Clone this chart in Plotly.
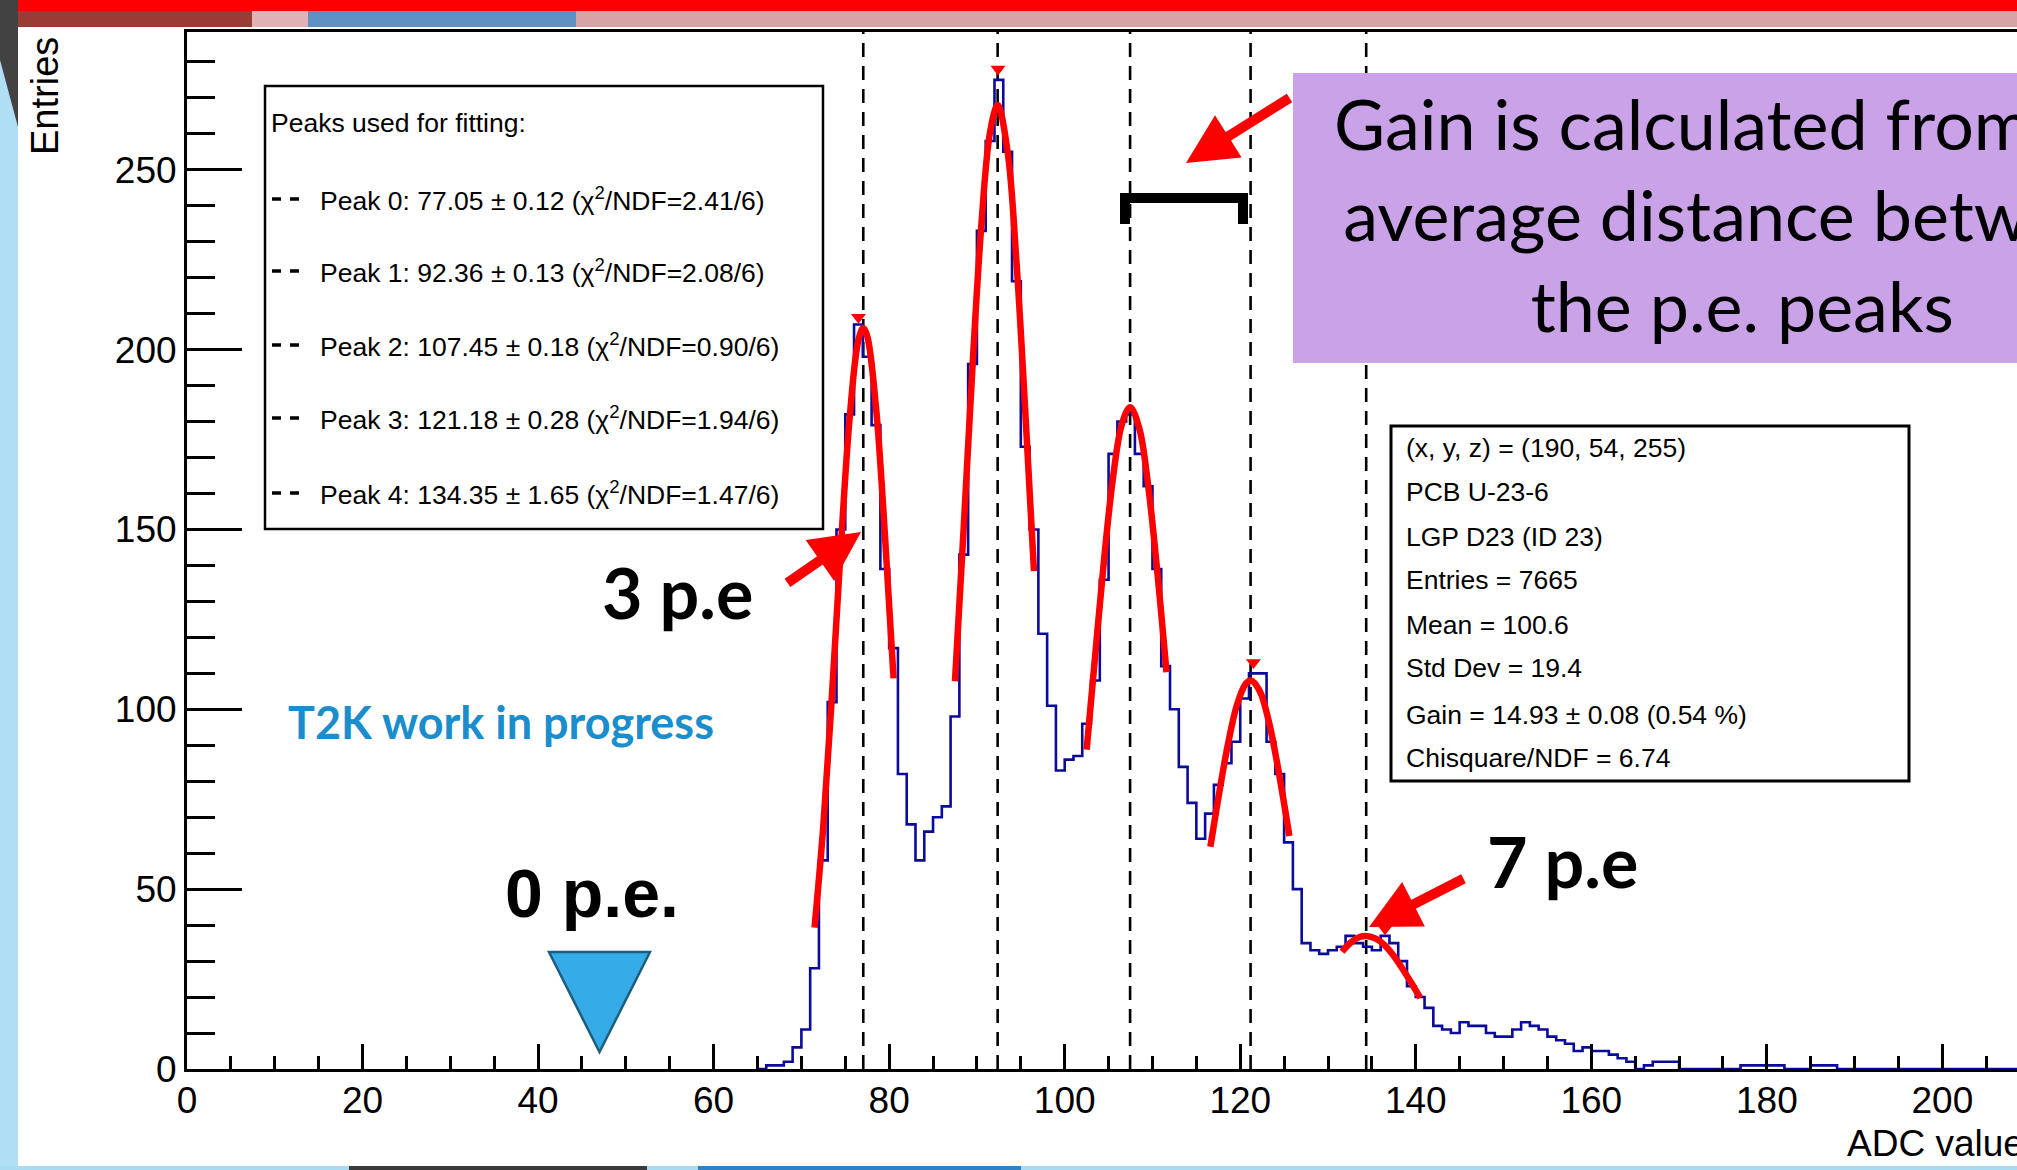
import plotly.graph_objects as go

# ---------------- data ----------------
bin_lo = list(range(65, 209))  # left edges of 1-ADC-wide bins
counts = [
    0, 1, 1, 2, 6, 11, 28, 58, 102,                 # 65-73
    150, 182, 207, 198, 179, 139, 117,              # 74-80
    82, 68, 58, 66, 70, 73, 98,                     # 81-87
    143, 196, 233, 258, 275, 255, 219, 173, 150,    # 88-96
    121, 101, 83, 86, 87, 96, 108,                  # 97-103
    136, 171, 180, 182, 171, 162, 139,              # 104-110
    112, 100, 84, 74, 64, 71, 79, 85, 91,           # 111-119
    103, 110, 110, 91, 82, 63, 50,                  # 120-126
    35, 33, 32, 33, 34, 37, 35, 34, 33, 37, 35,     # 127-137
    30, 23, 20, 17, 12, 11, 10, 13, 12, 12, 10, 9, 9,  # 138-150
    11, 13, 12, 11, 9, 8, 7, 5, 6, 5, 5, 4, 3, 2,   # 151-164
    0, 1, 2, 2, 2, 0, 0, 0, 0, 0, 0, 0,             # 165-176
    1, 1, 1, 1, 1, 0, 0, 0, 1, 1, 1,                # 177-187
]
counts = counts + [0] * (len(bin_lo) - len(counts))

peak_means = [77.05, 92.36, 107.45, 121.18, 134.35]

fit0_x = [71.5, 72.5, 73.5, 74.5, 75.5, 76.5, 77.05, 77.5, 78.5, 79.5, 80.5]
fit0_y = [39.3, 67.7, 104.6, 145.3, 181.0, 202.7, 206.0, 203.8, 184.0, 149.2, 108.6]
fit1_x = [87.5, 88.5, 89.5, 90.5, 91.5, 92.36, 93.5, 94.5, 95.5, 96.5]
fit1_y = [107.8, 150.8, 195.5, 234.5, 260.5, 268.0, 254.9, 224.6, 183.2, 138.4]
fit2_x = [102.5, 103.5, 104.5, 105.5, 106.5, 107.45, 108.5, 109.5, 110.5, 111.6]
fit2_y = [88.8, 115.7, 142.0, 164.3, 179.1, 184.0, 178.1, 162.4, 139.5, 110.3]
fit3_x = [116.6, 117.6, 118.6, 119.6, 120.6, 121.2, 122.2, 123.2, 124.2, 125.6]
fit3_y = [61.8, 76.7, 90.3, 101.0, 107.0, 108.0, 105.2, 97.2, 85.1, 64.8]
fit4_x = [131.6, 132.6, 133.6, 134.35, 135.5, 136.5, 137.5, 138.5, 139.5, 140.5]
fit4_y = [32.6, 35.2, 36.7, 37.0, 36.2, 34.3, 31.4, 27.8, 23.9, 19.8]

marker_x = [76.5, 92.4, 121.5, 136.5]
marker_y = [209, 278, 113, 39]

legend_header = "Peaks used for fitting:"
legend_rows = [
    "Peak 0: 77.05 ± 0.12 (χ<sup>2</sup>/NDF=2.41/6)",
    "Peak 1: 92.36 ± 0.13 (χ<sup>2</sup>/NDF=2.08/6)",
    "Peak 2: 107.45 ± 0.18 (χ<sup>2</sup>/NDF=0.90/6)",
    "Peak 3: 121.18 ± 0.28 (χ<sup>2</sup>/NDF=1.94/6)",
    "Peak 4: 134.35 ± 1.65 (χ<sup>2</sup>/NDF=1.47/6)",
]
stats_rows = [
    "(x, y, z) = (190, 54, 255)",
    "PCB U-23-6",
    "LGP D23 (ID 23)",
    "Entries = 7665",
    "Mean = 100.6",
    "Std Dev = 19.4",
    "Gain = 14.93 ± 0.08 (0.54 %)",
    "Chisquare/NDF = 6.74",
]

# ---------------- geometry ----------------
W, H = 2017, 1170
L, R, T, B = 187, 0, 32, 101
PW, PH = W - L - R, H - T - B


def px(x):
    return (x - L) / PW


def py(y):
    return (H - B - y) / PH


ROOT_FONT = "Liberation Sans"
SLIDE_FONT = "Lato"

fig = go.Figure()

# histogram (step)
hx = bin_lo + [bin_lo[-1] + 1]
hy = counts + [counts[-1]]
fig.add_trace(go.Scatter(x=hx, y=hy, mode="lines", line=dict(color="#0a0a9c", width=2.6, shape="hv"),
                         hoverinfo="skip", showlegend=False))

for fx, fy in [(fit0_x, fit0_y), (fit1_x, fit1_y), (fit2_x, fit2_y), (fit3_x, fit3_y), (fit4_x, fit4_y)]:
    fig.add_trace(go.Scatter(x=fx, y=fy, mode="lines", line=dict(color="#ff0000", width=6.5, shape="spline"),
                             hoverinfo="skip", showlegend=False))

fig.add_trace(go.Scatter(x=marker_x, y=marker_y, mode="markers",
                         marker=dict(symbol="triangle-down", size=13, color="#ff0000"),
                         hoverinfo="skip", showlegend=False))

shapes = []
# dashed lines at peak means
for m in peak_means:
    shapes.append(dict(type="line", xref="x", yref="paper", x0=m, x1=m, y0=0, y1=1, layer="below",
                       line=dict(color="black", width=2.6, dash="14px,9px")))

# legend box
shapes.append(dict(type="rect", xref="paper", yref="paper", x0=px(265), x1=px(823), y0=py(86), y1=py(529),
                   line=dict(color="black", width=2.5), fillcolor="white", layer="above"))
row_y = [199, 271, 345, 418, 493]
for yy in row_y:
    for a, b in [(272, 281), (290, 299)]:
        shapes.append(dict(type="line", xref="paper", yref="paper", x0=px(a), x1=px(b), y0=py(yy), y1=py(yy),
                           line=dict(color="black", width=3.5)))
# stats box
shapes.append(dict(type="rect", xref="paper", yref="paper", x0=px(1391), x1=px(1909), y0=py(426), y1=py(781),
                   line=dict(color="black", width=3), fillcolor="white", layer="above"))
# purple box
shapes.append(dict(type="rect", xref="paper", yref="paper", x0=px(1293), x1=px(2030), y0=py(73), y1=py(363),
                   line=dict(width=0), fillcolor="#c9a2e8", layer="above"))
# bracket
shapes.append(dict(type="path", xref="paper", yref="paper",
                   path=f"M {px(1125)},{py(224)} L {px(1125)},{py(198)} L {px(1243)},{py(198)} L {px(1243)},{py(224)}",
                   line=dict(color="black", width=10)))
# blue triangle
shapes.append(dict(type="path", xref="paper", yref="paper",
                   path=f"M {px(549)},{py(952)} L {px(650)},{py(952)} L {px(599.5)},{py(1052)} Z",
                   line=dict(color="#1d5d7e", width=2.5), fillcolor="#35ace8"))


# slide decorations
def rect(x0, y0, x1, y1, color):
    shapes.append(dict(type="rect", xref="paper", yref="paper", x0=px(x0), x1=px(x1), y0=py(y0), y1=py(y1),
                       line=dict(width=0), fillcolor=color, layer="above"))


rect(0, 0, W + 5, 11, "#ff0000")
rect(0, 11, 252, 27, "#9a3c36")
rect(252, 11, 308, 27, "#e0b2b6")
rect(308, 11, 576, 27, "#5f90c4")
rect(576, 11, W + 5, 27, "#d8a3a5")
rect(0, 27, 18, H, "#b0def5")
shapes.append(dict(type="path", xref="paper", yref="paper",
                   path=f"M {px(0)},{py(0)} L {px(18)},{py(0)} L {px(18)},{py(127)} L {px(0)},{py(60)} Z",
                   line=dict(width=0), fillcolor="#424242"))
rect(0, 1166, W + 5, H + 2, "#a9dcf3")
rect(349, 1166, 647, H + 2, "#3a3a3a")
rect(698, 1166, 1021, H + 2, "#2f82c4")

annotations = []


def text(x, y, s, size, family=ROOT_FONT, color="black", xanchor="left", **kw):
    annotations.append(dict(x=px(x), y=py(y), xref="paper", yref="paper", text=s, showarrow=False,
                            xanchor=xanchor, yanchor="middle", font=dict(family=family, size=size, color=color), **kw))


text(269, 123, legend_header, 26.5)
for yy, s in zip(row_y, legend_rows):
    text(318, yy, s, 26.5)
stats_y = [448, 492, 537, 580, 625, 668, 715, 758]
for yy, s in zip(stats_y, stats_rows):
    text(1404, yy, s, 26.5)

text(45, 96, "Entries", 38, xanchor="center", textangle=-90)
text(1845, 1143, "ADC value", 37)

text(1742, 214, "Gain is calculated from the<br>average distance between<br>the p.e. peaks", 70,
     family=SLIDE_FONT, xanchor="center", align="center")
text(286, 722, "<b>T2K work in progress</b>", 45, family=SLIDE_FONT, color="#1a8dcc")
text(600, 592, "<b>3 p.e</b>", 70, family=SLIDE_FONT)
text(1485, 861, "<b>7 p.e</b>", 70, family=SLIDE_FONT)
text(503, 893, "<b>0 p.e.</b>", 68, family=ROOT_FONT)

# arrows
for (hxp, hyp), (tx, ty) in [((1186, 163), (1291, 97)), ((861, 532), (786, 584)), ((1369, 927), (1465, 878))]:
    annotations.append(dict(x=px(hxp), y=py(hyp), xref="paper", yref="paper", text="", showarrow=True,
                            ax=tx - hxp, ay=ty - hyp, arrowhead=2, arrowsize=1, arrowwidth=10,
                            arrowcolor="#ff0000", standoff=0, startstandoff=0))

fig.update_layout(
    width=W, height=H, margin=dict(l=L, r=R, t=T, b=B, pad=0, autoexpand=False),
    paper_bgcolor="white", plot_bgcolor="white", showlegend=False,
    shapes=shapes, annotations=annotations,
    xaxis=dict(range=[0, 208.5], showgrid=False, zeroline=False, showline=True, linecolor="black", linewidth=3,
               mirror=True, ticks="inside", ticklen=25, tickwidth=3, tickcolor="black", tick0=0, dtick=20,
               minor=dict(dtick=5, ticks="inside", ticklen=13, tickwidth=2.5, tickcolor="black"),
               tickfont=dict(family=ROOT_FONT, size=37, color="black"), ticklabelstandoff=-3),
    yaxis=dict(range=[0, 288.3], showgrid=False, zeroline=False, showline=True, linecolor="black", linewidth=3,
               ticks="inside", ticklen=55, tickwidth=3, tickcolor="black", tick0=0, dtick=50,
               minor=dict(dtick=10, ticks="inside", ticklen=28, tickwidth=2.5, tickcolor="black"),
               tickfont=dict(family=ROOT_FONT, size=37, color="black"), ticklabelstandoff=0),
)

fig.write_html("out.html")
